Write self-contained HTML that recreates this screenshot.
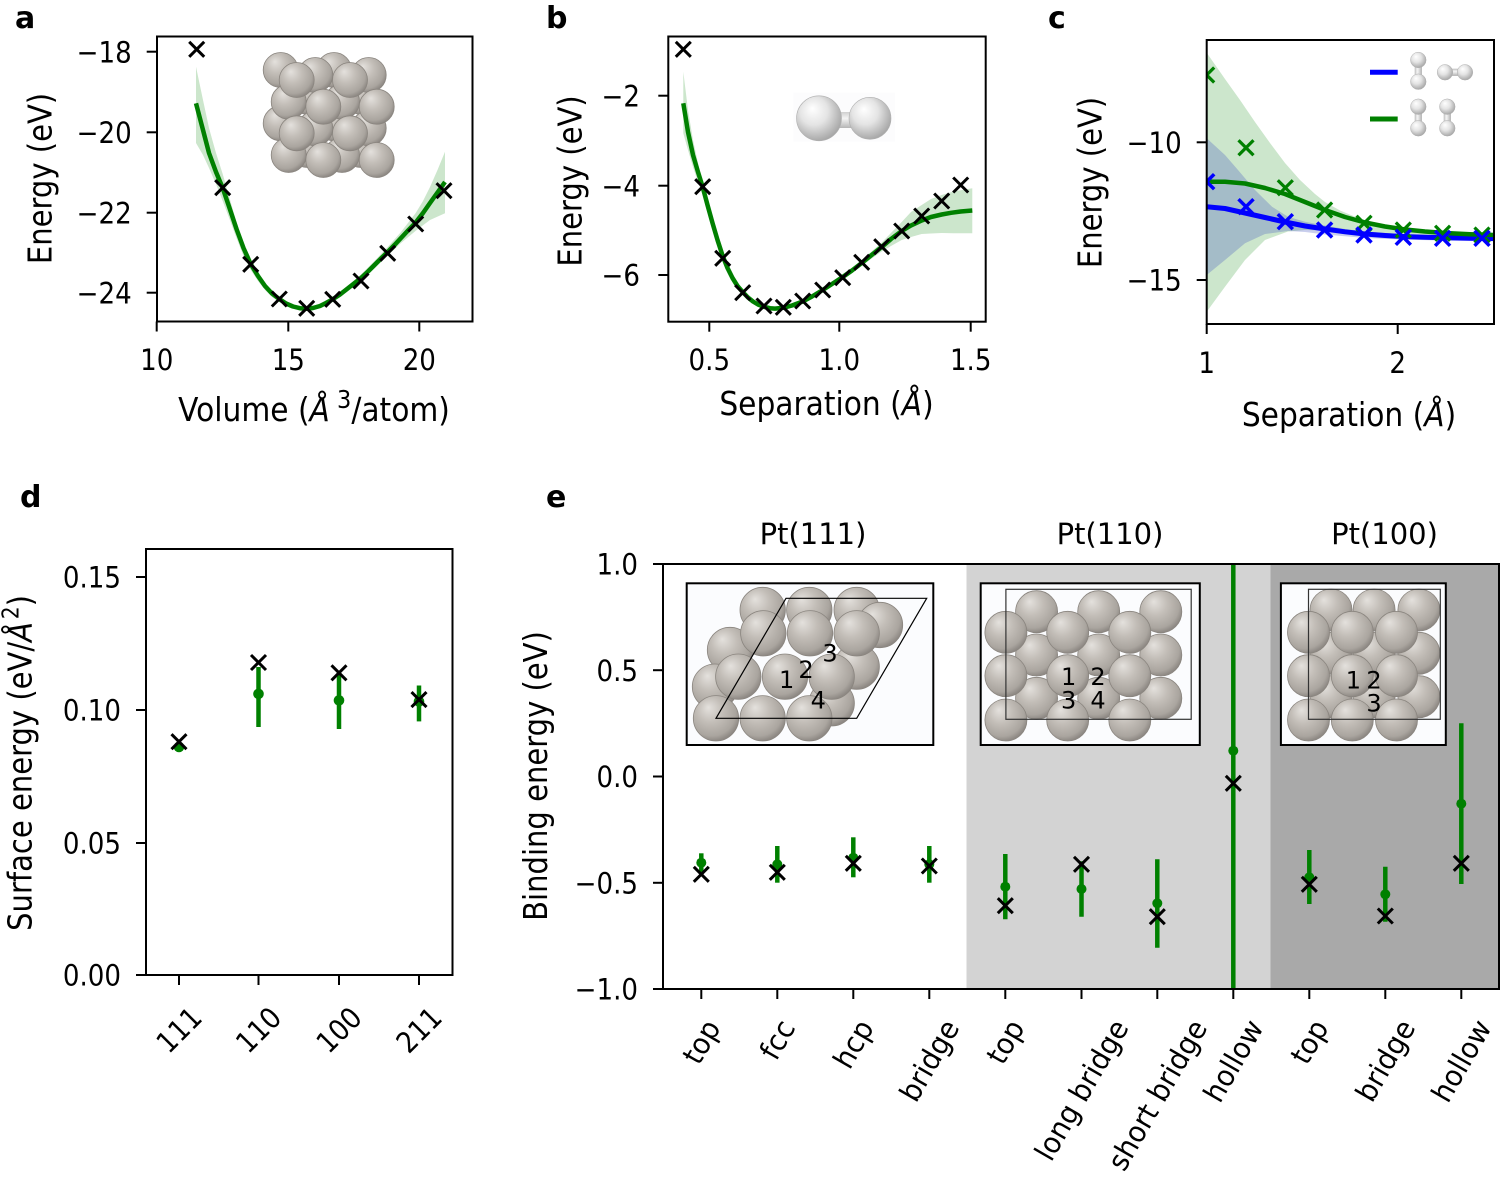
<!DOCTYPE html>
<html><head><meta charset="utf-8"><style>html,body{margin:0;padding:0;background:#fff}svg{display:block}</style></head>
<body>
<svg xmlns="http://www.w3.org/2000/svg" xmlns:xlink="http://www.w3.org/1999/xlink" width="1501" height="1179" viewBox="0 0 1501 1179" font-family="'DejaVu Sans','Liberation Sans',sans-serif" fill="#000">
<defs>
<radialGradient id="pt" cx="0.42" cy="0.38" r="0.62" fx="0.33" fy="0.26"><stop offset="0" stop-color="#e4e1dd"/><stop offset="0.45" stop-color="#c3beb8"/><stop offset="0.85" stop-color="#aaa59f"/><stop offset="1" stop-color="#8e8984"/></radialGradient>
<radialGradient id="h2" cx="0.42" cy="0.4" r="0.62" fx="0.35" fy="0.28"><stop offset="0" stop-color="#ffffff"/><stop offset="0.5" stop-color="#e4e4e4"/><stop offset="1" stop-color="#a6a6a6"/></radialGradient>
<linearGradient id="bond" x1="0" y1="0" x2="0" y2="1"><stop offset="0" stop-color="#cfcfcf"/><stop offset="0.4" stop-color="#f4f4f4"/><stop offset="1" stop-color="#b5b5b5"/></linearGradient>
<linearGradient id="bondv" x1="0" y1="0" x2="1" y2="0"><stop offset="0" stop-color="#cfcfcf"/><stop offset="0.4" stop-color="#f4f4f4"/><stop offset="1" stop-color="#b5b5b5"/></linearGradient>
<path id="xm" d="M-7.5-7.5L7.5 7.5M-7.5 7.5L7.5-7.5" fill="none"/>
<clipPath id="clipc"><rect x="1206.7" y="40" width="287.3" height="284"/></clipPath>
<clipPath id="clipe"><rect x="663" y="564" width="836" height="425"/></clipPath>
</defs>

<!-- ================= Panel a ================= -->
<text transform="translate(15 28)" font-weight="bold" font-size="30">a</text>
<polygon fill="#cce6cc" points="196,66.7 203,100 209,128 216,153 222.7,174 229.5,198 236.5,222 243.5,243 250.7,260 258,273 265,283.5 272,291.5 279.3,297.5 293,305 306.7,307 320,304.5 332.7,297.5 347,286.5 361,274.5 374.5,261 387.7,247 401,232 415.7,213 423,201 430,187 437.5,170 445,151.7 445,213.3 430,220 416.7,230 401,243 386.7,256.7 374.5,268.5 361,281 347,292 332.7,301.3 320,308 306.7,310.5 293,308.5 279.3,302 272,297 265,290 258,281 250.7,270 243.5,256 236.5,238 229.5,219 222.7,201 216,184 209,168 203,155 196,143"/>
<polyline fill="none" stroke="#008000" stroke-width="4.5" stroke-linejoin="round" points="196,103.3 203,130 209,153 216,172 222.7,188 229.5,208 236.5,229 243.5,248 250.7,264 258,276 265,286 272,293.5 279.3,299 286,303.5 293,306.5 300,308.2 306.7,308.7 313,308 320,306 326,303 332.7,299.3 340,294.5 347,289 354,283.5 361,278 368,271.5 374.5,265 381,258.5 387.7,252 394.5,245 401,238 408,230.5 415.7,222.5 423,213 430,203 437.5,192.5 445,182"/>
<g stroke="#000" stroke-width="3">
<use xlink:href="#xm" x="196.7" y="49.3"/><use xlink:href="#xm" x="222.7" y="187.7"/><use xlink:href="#xm" x="250.7" y="264.3"/><use xlink:href="#xm" x="279.3" y="299"/><use xlink:href="#xm" x="306.7" y="308.3"/><use xlink:href="#xm" x="332.7" y="299.3"/><use xlink:href="#xm" x="361" y="281"/><use xlink:href="#xm" x="387.7" y="253.3"/><use xlink:href="#xm" x="415.7" y="224"/><use xlink:href="#xm" x="444" y="190.7"/>
</g>
<!-- cube inset -->
<g stroke="#8a857f" stroke-width="0.8" fill="url(#pt)">
<circle cx="280.7" cy="70" r="17.5"/><circle cx="334" cy="70" r="17.5"/><circle cx="307.3" cy="96.7" r="17.5"/><circle cx="360.7" cy="96.7" r="17.5"/><circle cx="280.7" cy="123.3" r="17.5"/><circle cx="334" cy="123.3" r="17.5"/><circle cx="307.3" cy="150" r="17.5"/><circle cx="360.7" cy="150" r="17.5"/>
<circle cx="315.3" cy="75" r="17.5"/><circle cx="368.7" cy="75" r="17.5"/><circle cx="288.7" cy="101.7" r="17.5"/><circle cx="342" cy="101.7" r="17.5"/><circle cx="315.3" cy="128.3" r="17.5"/><circle cx="368.7" cy="128.3" r="17.5"/><circle cx="288.7" cy="155" r="17.5"/><circle cx="342" cy="155" r="17.5"/>
<circle cx="296.7" cy="80" r="17.5"/><circle cx="350" cy="80" r="17.5"/><circle cx="323.3" cy="106.7" r="17.5"/><circle cx="376.7" cy="106.7" r="17.5"/><circle cx="296.7" cy="133.3" r="17.5"/><circle cx="350" cy="133.3" r="17.5"/><circle cx="323.3" cy="160" r="17.5"/><circle cx="376.7" cy="160" r="17.5"/>
</g>
<rect x="157" y="36.5" width="315.5" height="285" fill="none" stroke="#000" stroke-width="2"/>
<g stroke="#000" stroke-width="2">
<line x1="146.7" y1="51.7" x2="157" y2="51.7"/><line x1="146.7" y1="132.3" x2="157" y2="132.3"/><line x1="146.7" y1="212.7" x2="157" y2="212.7"/><line x1="146.7" y1="292.7" x2="157" y2="292.7"/>
<line x1="156.7" y1="321.5" x2="156.7" y2="331.5"/><line x1="288.3" y1="321.5" x2="288.3" y2="331.5"/><line x1="419.3" y1="321.5" x2="419.3" y2="331.5"/>
</g>
<g font-size="29" text-anchor="end">
<text transform="translate(131.7 62.3) scale(0.9 1)">−18</text>
<text transform="translate(131.7 142.9) scale(0.9 1)">−20</text>
<text transform="translate(131.7 223.3) scale(0.9 1)">−22</text>
<text transform="translate(131.7 303.3) scale(0.9 1)">−24</text>
</g>
<g font-size="29" text-anchor="middle">
<text transform="translate(156.7 370) scale(0.9 1)">10</text>
<text transform="translate(288.3 370) scale(0.9 1)">15</text>
<text transform="translate(419.3 370) scale(0.9 1)">20</text>
</g>
<text transform="translate(314 421) scale(0.9 1)" font-size="33" text-anchor="middle">Volume (<tspan font-style="italic">Å</tspan><tspan dx="8" dy="-13" font-size="25">3</tspan><tspan dy="13">/atom)</tspan></text>
<text transform="translate(51.7 178.5) rotate(-90) scale(0.88 1)" font-size="33" text-anchor="middle">Energy (eV)</text>

<!-- ================= Panel b ================= -->
<text transform="translate(546 28)" font-weight="bold" font-size="30">b</text>
<polygon fill="#cce6cc" points="683.3,71.7 688,110 693,140 698,163 702.7,183 712.5,220 722.7,254 732.5,276 742.7,290 753,300 764,305.5 775,307.3 783.3,306.5 802.7,300 822.7,288.5 842.7,275.5 861.7,260 871,252 881.7,242.5 891,233 901.7,222 911,212 921.7,205 931,199 941.7,195 953.3,191.5 972.3,188.3 972.3,233.3 953.3,233.3 941.7,233 931,233.5 921.7,234 911,237 901.7,240 891,246 881.7,251.5 871,259 861.7,266 842.7,279 822.7,292 802.7,303 783.3,309 775,310 764,308.5 753,303.5 742.7,295 732.5,282 722.7,261 712.5,229 702.7,195 698,182 693,167 688,150 683.3,133.3"/>
<polyline fill="none" stroke="#008000" stroke-width="4.5" stroke-linejoin="round" points="683.3,103.3 688,132 693,155 698,172 702.7,187 707.5,205 712.5,223 717.5,240 722.7,256 727.5,268 732.5,278 737.5,286 742.7,292 748,297.5 753,301.5 758,304.5 764,306.8 770,308.2 775,308.6 783.3,307.8 792,305.5 802.7,301.5 812,296.5 822.7,290 832,284 842.7,277 852,270.5 861.7,263 871,255.5 881.7,247 891,239 901.7,231 911,225.5 921.7,220.5 931,217 941.7,214.5 951,212.8 960.7,211.5 972.3,210.5"/>
<g stroke="#000" stroke-width="3">
<use xlink:href="#xm" x="683.3" y="49.3"/><use xlink:href="#xm" x="702.7" y="186.7"/><use xlink:href="#xm" x="722.7" y="258.3"/><use xlink:href="#xm" x="742.7" y="292.7"/><use xlink:href="#xm" x="764" y="306"/><use xlink:href="#xm" x="783.3" y="307.3"/><use xlink:href="#xm" x="802.7" y="301"/><use xlink:href="#xm" x="822.7" y="290"/><use xlink:href="#xm" x="842.7" y="277.7"/><use xlink:href="#xm" x="861.7" y="262.3"/><use xlink:href="#xm" x="881.7" y="246.7"/><use xlink:href="#xm" x="901.7" y="231"/><use xlink:href="#xm" x="921.7" y="216"/><use xlink:href="#xm" x="941.7" y="201"/><use xlink:href="#xm" x="960.7" y="185"/>
</g>
<rect x="793.3" y="92.7" width="101.7" height="49" fill="#fcfcfd"/>
<rect x="835" y="112" width="22" height="16" fill="url(#bond)"/>
<circle cx="819" cy="118.3" r="22.5" fill="url(#h2)" stroke="#b0b0b0" stroke-width="0.6"/>
<circle cx="870" cy="118.3" r="21" fill="url(#h2)" stroke="#b0b0b0" stroke-width="0.6"/>
<rect x="668.3" y="36.5" width="317.4" height="285.2" fill="none" stroke="#000" stroke-width="2"/>
<g stroke="#000" stroke-width="2">
<line x1="658.3" y1="95.7" x2="668.3" y2="95.7"/><line x1="658.3" y1="185.7" x2="668.3" y2="185.7"/><line x1="658.3" y1="275" x2="668.3" y2="275"/>
<line x1="709.3" y1="321.7" x2="709.3" y2="331.7"/><line x1="839.3" y1="321.7" x2="839.3" y2="331.7"/><line x1="970.7" y1="321.7" x2="970.7" y2="331.7"/>
</g>
<g font-size="29" text-anchor="end">
<text transform="translate(640 106.3) scale(0.9 1)">−2</text>
<text transform="translate(640 196.3) scale(0.9 1)">−4</text>
<text transform="translate(640 285.6) scale(0.9 1)">−6</text>
</g>
<g font-size="29" text-anchor="middle">
<text transform="translate(709.3 370) scale(0.9 1)">0.5</text>
<text transform="translate(839.3 370) scale(0.9 1)">1.0</text>
<text transform="translate(970.7 370) scale(0.9 1)">1.5</text>
</g>
<text transform="translate(826.5 415) scale(0.9 1)" font-size="33" text-anchor="middle">Separation (<tspan font-style="italic">Å</tspan>)</text>
<text transform="translate(581.7 181) rotate(-90) scale(0.88 1)" font-size="33" text-anchor="middle">Energy (eV)</text>

<!-- ================= Panel c ================= -->
<text transform="translate(1048 28)" font-weight="bold" font-size="30">c</text>
<g clip-path="url(#clipc)">
<polygon fill="#cce6cc" points="1206.7,52.7 1225,79 1240,100 1255,122 1270,143 1285,163 1300,180 1315,194 1325,202 1340,210.5 1357,217.5 1373,222.5 1390,226.5 1407,229.5 1440,232.5 1494,234 1494,238 1440,237 1407,235.5 1373,233.5 1340,231.5 1325,230.5 1305,230 1288,231.5 1265,240 1245,260 1225,286.7 1206.7,311.7"/>
<polygon fill="rgba(60,80,190,0.28)" points="1206.7,138.3 1225,155 1238,170 1255,190 1272,206.7 1288,216.7 1305,221.7 1325,225.5 1345,229 1365,231.5 1400,234 1440,236 1494,237 1494,241 1440,240.5 1400,239.5 1365,238 1325,234.5 1305,232 1288,231 1265,234 1245,243.3 1225,260 1206.7,275"/>
<polyline fill="none" stroke="#0000ff" stroke-width="5" stroke-linejoin="round" points="1206.7,206.7 1225,208.5 1245,213 1265,217.5 1285,222 1305,226 1325,229 1345,231.8 1365,234 1385,235.5 1405,236.6 1425,237.3 1445,237.8 1470,238.3 1494,238.6"/>
<polyline fill="none" stroke="#008000" stroke-width="4.5" stroke-linejoin="round" points="1206.7,181.7 1225,181.8 1245,183.5 1265,188 1285,194 1305,202 1325,210 1345,217 1365,222.5 1385,226.5 1405,229.5 1425,231.5 1445,233 1470,234.2 1494,235"/>
<g stroke="#008000" stroke-width="3.2">
<use xlink:href="#xm" x="1206.7" y="75"/><use xlink:href="#xm" x="1246" y="147.7"/><use xlink:href="#xm" x="1285.3" y="187.7"/><use xlink:href="#xm" x="1324.6" y="210"/><use xlink:href="#xm" x="1364" y="223.3"/><use xlink:href="#xm" x="1403.3" y="230"/><use xlink:href="#xm" x="1442.6" y="233.3"/><use xlink:href="#xm" x="1482" y="235"/>
</g>
<g stroke="#0000ff" stroke-width="3.5">
<use xlink:href="#xm" x="1206.7" y="181.7"/><use xlink:href="#xm" x="1246" y="206.7"/><use xlink:href="#xm" x="1285.3" y="221.7"/><use xlink:href="#xm" x="1324.6" y="230"/><use xlink:href="#xm" x="1364" y="235"/><use xlink:href="#xm" x="1403.3" y="237.3"/><use xlink:href="#xm" x="1442.6" y="238.3"/><use xlink:href="#xm" x="1482" y="238.3"/>
</g>
</g>
<!-- legend -->
<line x1="1370" y1="72.3" x2="1397.7" y2="72.3" stroke="#0000ff" stroke-width="5"/>
<line x1="1370" y1="119" x2="1397.7" y2="119" stroke="#008000" stroke-width="5"/>
<g stroke="#b0b0b0" stroke-width="0.5">
<rect x="1415" y="60" width="6.6" height="21.7" fill="url(#bondv)"/>
<circle cx="1418.3" cy="60" r="7.8" fill="url(#h2)"/><circle cx="1418.3" cy="81.7" r="7.8" fill="url(#h2)"/>
<rect x="1445" y="69" width="20" height="6.6" fill="url(#bond)"/>
<circle cx="1445" cy="72.3" r="7.8" fill="url(#h2)"/><circle cx="1465" cy="72.3" r="7.8" fill="url(#h2)"/>
<rect x="1415" y="106.7" width="6.6" height="21.6" fill="url(#bondv)"/>
<circle cx="1418.3" cy="106.7" r="7.8" fill="url(#h2)"/><circle cx="1418.3" cy="128.3" r="7.8" fill="url(#h2)"/>
<rect x="1444" y="106.7" width="6.6" height="21.6" fill="url(#bondv)"/>
<circle cx="1447.3" cy="106.7" r="7.8" fill="url(#h2)"/><circle cx="1447.3" cy="128.3" r="7.8" fill="url(#h2)"/>
</g>
<rect x="1206.7" y="40" width="287.3" height="284" fill="none" stroke="#000" stroke-width="2"/>
<g stroke="#000" stroke-width="2">
<line x1="1196.7" y1="142.3" x2="1206.7" y2="142.3"/><line x1="1196.7" y1="280" x2="1206.7" y2="280"/>
<line x1="1206.7" y1="324" x2="1206.7" y2="334"/><line x1="1397.7" y1="324" x2="1397.7" y2="334"/>
</g>
<g font-size="29" text-anchor="end">
<text transform="translate(1181.7 152.9) scale(0.9 1)">−10</text>
<text transform="translate(1181.7 290.6) scale(0.9 1)">−15</text>
</g>
<g font-size="29" text-anchor="middle">
<text transform="translate(1206.7 373) scale(0.9 1)">1</text>
<text transform="translate(1397.7 373) scale(0.9 1)">2</text>
</g>
<text transform="translate(1349 426) scale(0.9 1)" font-size="33" text-anchor="middle">Separation (<tspan font-style="italic">Å</tspan>)</text>
<text transform="translate(1101.7 182.5) rotate(-90) scale(0.88 1)" font-size="33" text-anchor="middle">Energy (eV)</text>

<!-- ================= Panel d ================= -->
<text transform="translate(20 507)" font-weight="bold" font-size="30">d</text>
<g stroke="#008000" stroke-width="4.5">
<line x1="258.5" y1="667" x2="258.5" y2="727"/><line x1="339" y1="672.8" x2="339" y2="729"/><line x1="419" y1="685.5" x2="419" y2="721.4"/>
</g>
<g fill="#008000">
<circle cx="179" cy="747" r="5.3"/><circle cx="258.5" cy="693.9" r="5.3"/><circle cx="339" cy="700.4" r="5.3"/><circle cx="419" cy="701.5" r="5.3"/>
</g>
<g stroke="#000" stroke-width="3">
<use xlink:href="#xm" x="179" y="741.7"/><use xlink:href="#xm" x="258.5" y="662.5"/><use xlink:href="#xm" x="339" y="672.8"/><use xlink:href="#xm" x="419" y="699.6"/>
</g>
<rect x="146" y="549" width="306.5" height="426" fill="none" stroke="#000" stroke-width="2"/>
<g stroke="#000" stroke-width="2">
<line x1="136" y1="577" x2="146" y2="577"/><line x1="136" y1="710" x2="146" y2="710"/><line x1="136" y1="843" x2="146" y2="843"/><line x1="136" y1="975" x2="146" y2="975"/>
<line x1="179" y1="975" x2="179" y2="985"/><line x1="258.5" y1="975" x2="258.5" y2="985"/><line x1="339" y1="975" x2="339" y2="985"/><line x1="419" y1="975" x2="419" y2="985"/>
</g>
<g font-size="29" text-anchor="end">
<text transform="translate(121 587.6) scale(0.9 1)">0.15</text>
<text transform="translate(121 720.6) scale(0.9 1)">0.10</text>
<text transform="translate(121 853.6) scale(0.9 1)">0.05</text>
<text transform="translate(121 985.6) scale(0.9 1)">0.00</text>
</g>
<g font-size="29" text-anchor="middle">
<text transform="translate(179 1030) rotate(-45) scale(0.9 1)" dy="0.35em">111</text>
<text transform="translate(258.5 1030) rotate(-45) scale(0.9 1)" dy="0.35em">110</text>
<text transform="translate(339 1030) rotate(-45) scale(0.9 1)" dy="0.35em">100</text>
<text transform="translate(419 1030) rotate(-45) scale(0.9 1)" dy="0.35em">211</text>
</g>
<text transform="translate(31.7 763) rotate(-90) scale(0.88 1)" font-size="33" text-anchor="middle">Surface energy (eV/<tspan font-style="italic">Å</tspan><tspan dx="3" dy="-13" font-size="23">2</tspan><tspan dy="13">)</tspan></text>

<!-- ================= Panel e ================= -->
<text transform="translate(546 507)" font-weight="bold" font-size="30">e</text>
<rect x="966.5" y="564" width="304" height="425" fill="#d3d3d3"/>
<rect x="1270.5" y="564" width="228.5" height="425" fill="#a9a9a9"/>

<!-- Pt(111) inset -->
<rect x="686.7" y="583.3" width="246.6" height="161.7" fill="#fbfcfe" stroke="#000" stroke-width="2"/>
<g stroke="#8a857f" stroke-width="0.8" fill="url(#pt)">
<circle cx="762.7" cy="610" r="22.7"/><circle cx="809.3" cy="610" r="22.7"/><circle cx="856.7" cy="610" r="22.7"/><circle cx="880" cy="625" r="22.7"/><circle cx="730" cy="650" r="22.7"/><circle cx="856.7" cy="666.7" r="22.7"/><circle cx="715" cy="686.7" r="22.7"/><circle cx="831.7" cy="703.3" r="22.7"/>
<circle cx="763.3" cy="633.3" r="22.7"/><circle cx="810" cy="633.3" r="22.7"/><circle cx="856.7" cy="633.3" r="22.7"/>
<circle cx="738.3" cy="676.7" r="22.7"/><circle cx="785" cy="676.7" r="22.7"/><circle cx="831.7" cy="676.7" r="22.7"/>
<circle cx="716" cy="718.3" r="22.7"/><circle cx="762.7" cy="718.3" r="22.7"/><circle cx="809.3" cy="718.3" r="22.7"/>
</g>
<polygon points="716,718.3 856.7,718.3 926.7,598.3 786,598.3" fill="none" stroke="#000" stroke-width="1.2"/>
<g font-size="24" text-anchor="middle">
<text x="786.7" y="688">1</text><text x="806" y="678">2</text><text x="830" y="661.7">3</text><text x="818.3" y="708.3">4</text>
</g>

<!-- Pt(110) inset -->
<rect x="980.7" y="583.3" width="219.1" height="161.7" fill="#fbfcfe" stroke="#000" stroke-width="2"/>
<g stroke="#8a857f" stroke-width="0.8" fill="url(#pt)">
<circle cx="1036.6" cy="611.7" r="21"/><circle cx="1098.7" cy="611.7" r="21"/><circle cx="1160.8" cy="611.7" r="21"/>
<circle cx="1036.6" cy="655" r="21"/><circle cx="1098.7" cy="655" r="21"/><circle cx="1160.8" cy="655" r="21"/>
<circle cx="1036.6" cy="698.3" r="21"/><circle cx="1098.7" cy="698.3" r="21"/><circle cx="1160.8" cy="698.3" r="21"/>
<circle cx="1005.9" cy="632.3" r="21"/><circle cx="1067.7" cy="632.3" r="21"/><circle cx="1129.8" cy="632.3" r="21"/>
<circle cx="1005.9" cy="675.7" r="21"/><circle cx="1067.7" cy="675.7" r="21"/><circle cx="1129.8" cy="675.7" r="21"/>
<circle cx="1005.9" cy="720" r="21"/><circle cx="1067.7" cy="720" r="21"/><circle cx="1129.8" cy="720" r="21"/>
</g>
<rect x="1005.9" y="589.3" width="185.3" height="130" fill="none" stroke="#333" stroke-width="1.2"/>
<g font-size="24" text-anchor="middle">
<text x="1068.7" y="685">1</text><text x="1098" y="685">2</text><text x="1068.7" y="708.3">3</text><text x="1098" y="708.3">4</text>
</g>

<!-- Pt(100) inset -->
<rect x="1280.9" y="583.3" width="164.9" height="161.7" fill="#fbfcfe" stroke="#000" stroke-width="2"/>
<g stroke="#8a857f" stroke-width="0.8" fill="url(#pt)">
<circle cx="1331" cy="610" r="21"/><circle cx="1374.1" cy="610" r="21"/><circle cx="1418.9" cy="610" r="21"/>
<circle cx="1331" cy="653.3" r="21"/><circle cx="1374.1" cy="653.3" r="21"/><circle cx="1418.9" cy="653.3" r="21"/>
<circle cx="1331" cy="696.7" r="21"/><circle cx="1374.1" cy="696.7" r="21"/><circle cx="1418.9" cy="696.7" r="21"/>
<circle cx="1308.5" cy="632.3" r="21"/><circle cx="1352.3" cy="632.3" r="21"/><circle cx="1396.5" cy="632.3" r="21"/>
<circle cx="1308.5" cy="675.7" r="21"/><circle cx="1352.3" cy="675.7" r="21"/><circle cx="1396.5" cy="675.7" r="21"/>
<circle cx="1308.5" cy="720" r="21"/><circle cx="1352.3" cy="720" r="21"/><circle cx="1396.5" cy="720" r="21"/>
</g>
<rect x="1308.5" y="589.3" width="131.8" height="130" fill="none" stroke="#333" stroke-width="1.2"/>
<g font-size="24" text-anchor="middle">
<text x="1353.4" y="688.3">1</text><text x="1374" y="688.3">2</text><text x="1374" y="711.7">3</text>
</g>

<!-- e data -->
<g clip-path="url(#clipe)">
<g stroke="#008000" stroke-width="4.5">
<line x1="701.3" y1="853.3" x2="701.3" y2="872"/>
<line x1="777.3" y1="846" x2="777.3" y2="882.7"/>
<line x1="853.3" y1="837.3" x2="853.3" y2="877.3"/>
<line x1="929.3" y1="846" x2="929.3" y2="882.7"/>
<line x1="1005.3" y1="854" x2="1005.3" y2="919.3"/>
<line x1="1081.5" y1="861.3" x2="1081.5" y2="916.7"/>
<line x1="1157.3" y1="859.3" x2="1157.3" y2="947.7"/>
<line x1="1233.3" y1="560" x2="1233.3" y2="992"/>
<line x1="1309.3" y1="850" x2="1309.3" y2="904"/>
<line x1="1385.3" y1="866.7" x2="1385.3" y2="921.7"/>
<line x1="1461.3" y1="723.3" x2="1461.3" y2="884"/>
</g>
<g fill="#008000">
<circle cx="701.3" cy="862.7" r="5"/><circle cx="777.3" cy="864.3" r="5"/><circle cx="853.3" cy="857.7" r="5"/><circle cx="929.3" cy="864.3" r="5"/><circle cx="1005.3" cy="886.7" r="5"/><circle cx="1081.5" cy="889" r="5"/><circle cx="1157.3" cy="903.3" r="5"/><circle cx="1233.3" cy="750.7" r="5"/><circle cx="1309.3" cy="877.3" r="5"/><circle cx="1385.3" cy="894.3" r="5"/><circle cx="1461.3" cy="803.7" r="5"/>
</g>
<g stroke="#000" stroke-width="3">
<use xlink:href="#xm" x="701.3" y="874.3"/><use xlink:href="#xm" x="777.3" y="872.3"/><use xlink:href="#xm" x="853.3" y="863.3"/><use xlink:href="#xm" x="929.3" y="866"/><use xlink:href="#xm" x="1005.3" y="905.7"/><use xlink:href="#xm" x="1081.5" y="864.3"/><use xlink:href="#xm" x="1157.3" y="916.7"/><use xlink:href="#xm" x="1233.3" y="783.3"/><use xlink:href="#xm" x="1309.3" y="884.3"/><use xlink:href="#xm" x="1385.3" y="916"/><use xlink:href="#xm" x="1461.3" y="863.3"/>
</g>
</g>
<rect x="663" y="564" width="836" height="425" fill="none" stroke="#000" stroke-width="2"/>
<g stroke="#000" stroke-width="2">
<line x1="653" y1="564" x2="663" y2="564"/><line x1="653" y1="670.2" x2="663" y2="670.2"/><line x1="653" y1="776.5" x2="663" y2="776.5"/><line x1="653" y1="882.8" x2="663" y2="882.8"/><line x1="653" y1="989" x2="663" y2="989"/>
<line x1="701.3" y1="989" x2="701.3" y2="999"/><line x1="777.3" y1="989" x2="777.3" y2="999"/><line x1="853.3" y1="989" x2="853.3" y2="999"/><line x1="929.3" y1="989" x2="929.3" y2="999"/><line x1="1005.3" y1="989" x2="1005.3" y2="999"/><line x1="1081.5" y1="989" x2="1081.5" y2="999"/><line x1="1157.3" y1="989" x2="1157.3" y2="999"/><line x1="1233.3" y1="989" x2="1233.3" y2="999"/><line x1="1309.3" y1="989" x2="1309.3" y2="999"/><line x1="1385.3" y1="989" x2="1385.3" y2="999"/><line x1="1461.3" y1="989" x2="1461.3" y2="999"/>
</g>
<g font-size="29" text-anchor="end">
<text transform="translate(638 574.6) scale(0.9 1)">1.0</text>
<text transform="translate(638 680.8) scale(0.9 1)">0.5</text>
<text transform="translate(638 787.1) scale(0.9 1)">0.0</text>
<text transform="translate(638 893.4) scale(0.9 1)">−0.5</text>
<text transform="translate(638 999.6) scale(0.9 1)">−1.0</text>
</g>
<g font-size="29" text-anchor="middle">
<text transform="translate(701.3 1041.8) rotate(-60) scale(0.95 1)" dy="0.35em">top</text>
<text transform="translate(777.3 1039.6) rotate(-60) scale(0.95 1)" dy="0.35em">fcc</text>
<text transform="translate(853.3 1044) rotate(-60) scale(0.95 1)" dy="0.35em">hcp</text>
<text transform="translate(929.3 1060.5) rotate(-60) scale(0.95 1)" dy="0.35em">bridge</text>
<text transform="translate(1005.3 1041.8) rotate(-60) scale(0.95 1)" dy="0.35em">top</text>
<text transform="translate(1081.5 1090) rotate(-60) scale(0.95 1)" dy="0.35em">long bridge</text>
<text transform="translate(1157.3 1095) rotate(-60) scale(0.95 1)" dy="0.35em">short bridge</text>
<text transform="translate(1233.3 1060.8) rotate(-60) scale(0.95 1)" dy="0.35em">hollow</text>
<text transform="translate(1309.3 1041.8) rotate(-60) scale(0.95 1)" dy="0.35em">top</text>
<text transform="translate(1385.3 1060.5) rotate(-60) scale(0.95 1)" dy="0.35em">bridge</text>
<text transform="translate(1461.3 1060.8) rotate(-60) scale(0.95 1)" dy="0.35em">hollow</text>
</g>
<g font-size="29" text-anchor="middle">
<text x="813" y="544">Pt(111)</text>
<text x="1110" y="544">Pt(110)</text>
<text x="1384.5" y="544">Pt(100)</text>
</g>
<text transform="translate(547 776) rotate(-90) scale(0.88 1)" font-size="33" text-anchor="middle">Binding energy (eV)</text>
</svg>
</body></html>
